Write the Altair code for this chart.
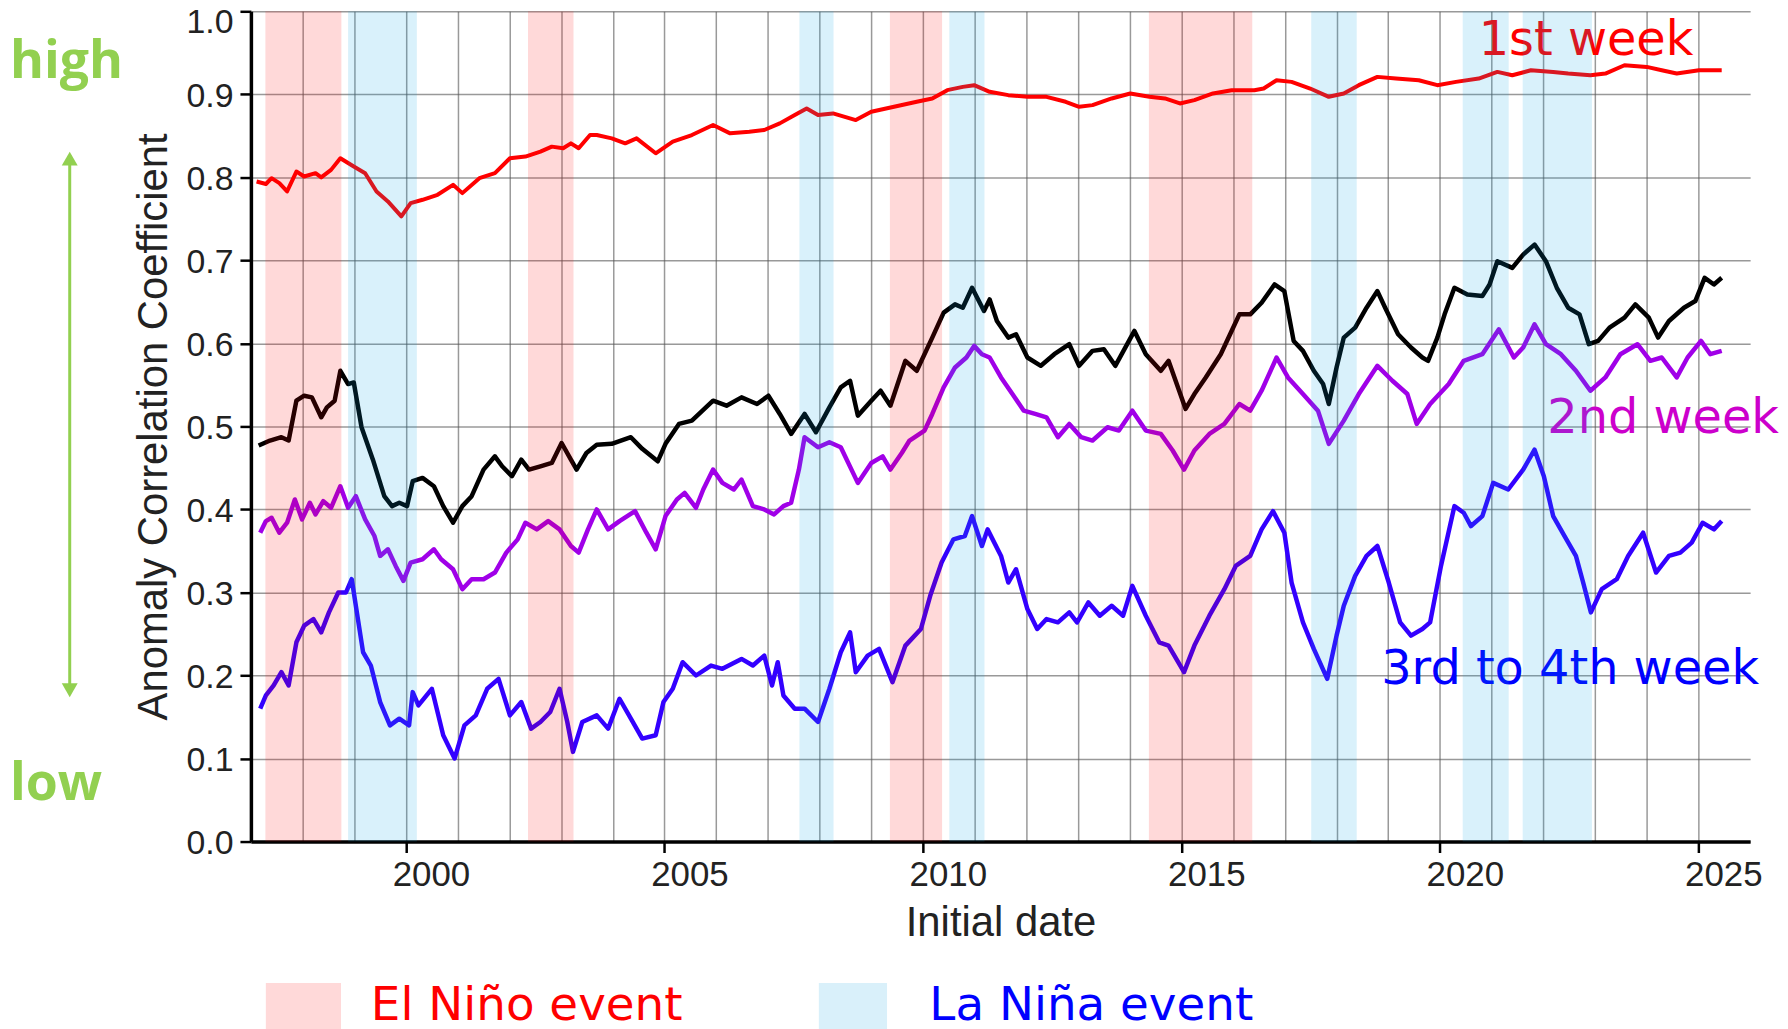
import altair as alt
import pandas as pd

# ---------------- data ----------------
red_t = [1997.11, 1997.29, 1997.40, 1997.55, 1997.70, 1997.88, 1998.03, 1998.25, 1998.36, 1998.55,
         1998.73, 1998.99, 1999.21, 1999.43, 1999.65, 1999.91, 2000.09, 2000.32, 2000.61, 2000.91,
         2001.09, 2001.42, 2001.72, 2002.01, 2002.31, 2002.60, 2002.82, 2003.04, 2003.19, 2003.34,
         2003.56, 2003.69, 2003.98, 2004.24, 2004.46, 2004.83, 2005.16, 2005.53, 2005.94, 2006.27,
         2006.64, 2006.93, 2007.23, 2007.52, 2007.75, 2007.97, 2008.26, 2008.70, 2009.00, 2009.44,
         2009.88, 2010.18, 2010.47, 2010.77, 2010.99, 2011.29, 2011.65, 2012.02, 2012.39, 2012.76,
         2013.02, 2013.28, 2013.65, 2014.01, 2014.38, 2014.68, 2014.97, 2015.25, 2015.61, 2015.97,
         2016.41, 2016.59, 2016.84, 2017.13, 2017.49, 2017.85, 2018.14, 2018.43, 2018.79, 2019.15,
         2019.59, 2019.95, 2020.31, 2020.75, 2021.11, 2021.40, 2021.76, 2022.19, 2022.48, 2022.91,
         2023.20, 2023.57, 2024.00, 2024.29, 2024.58, 2025.01, 2025.45]
red_v = [0.795, 0.792, 0.799, 0.793, 0.783, 0.807, 0.801, 0.805, 0.800, 0.809,
         0.823, 0.813, 0.805, 0.783, 0.771, 0.753, 0.769, 0.773, 0.779, 0.791,
         0.781, 0.799, 0.805, 0.823, 0.825, 0.831, 0.837, 0.835, 0.841, 0.835,
         0.851, 0.851, 0.847, 0.841, 0.847, 0.829, 0.843, 0.851, 0.863, 0.853,
         0.855, 0.857, 0.865, 0.875, 0.883, 0.875, 0.877, 0.869, 0.879, 0.885,
         0.891, 0.895, 0.905, 0.909, 0.911, 0.903, 0.899, 0.897, 0.897, 0.891,
         0.885, 0.887, 0.895, 0.901, 0.897, 0.895, 0.889, 0.893, 0.901, 0.905,
         0.905, 0.907, 0.917, 0.915, 0.907, 0.897, 0.901, 0.911, 0.921, 0.919,
         0.917, 0.911, 0.915, 0.919, 0.927, 0.923, 0.929, 0.927, 0.925, 0.923,
         0.925, 0.935, 0.933, 0.929, 0.925, 0.929, 0.929]

black_t = [1997.15, 1997.37, 1997.59, 1997.73, 1997.88, 1998.03, 1998.18, 1998.36, 1998.47, 1998.62,
           1998.73, 1998.88, 1998.99, 1999.14, 1999.36, 1999.58, 1999.73, 1999.87, 2000.02, 2000.13,
           2000.32, 2000.54, 2000.72, 2000.91, 2001.09, 2001.27, 2001.50, 2001.72, 2001.86, 2002.05,
           2002.23, 2002.38, 2002.60, 2002.82, 2003.01, 2003.19, 2003.30, 2003.49, 2003.69, 2003.98,
           2004.35, 2004.57, 2004.87, 2005.02, 2005.28, 2005.53, 2005.94, 2006.20, 2006.49, 2006.79,
           2007.01, 2007.23, 2007.45, 2007.71, 2007.93, 2008.19, 2008.41, 2008.59, 2008.74, 2009.00,
           2009.18, 2009.37, 2009.66, 2009.88, 2010.18, 2010.40, 2010.62, 2010.77, 2010.95, 2011.18,
           2011.29, 2011.43, 2011.65, 2011.80, 2012.02, 2012.28, 2012.54, 2012.83, 2013.02, 2013.28,
           2013.50, 2013.72, 2014.09, 2014.31, 2014.60, 2014.75, 2015.08, 2015.25, 2015.47, 2015.76,
           2015.97, 2016.12, 2016.33, 2016.55, 2016.80, 2016.99, 2017.17, 2017.35, 2017.56, 2017.74,
           2017.85, 2018.00, 2018.14, 2018.36, 2018.58, 2018.79, 2018.94, 2019.19, 2019.44, 2019.66,
           2019.77, 2019.95, 2020.09, 2020.28, 2020.53, 2020.82, 2020.96, 2021.11, 2021.40, 2021.61,
           2021.83, 2022.05, 2022.26, 2022.48, 2022.70, 2022.88, 2023.06, 2023.28, 2023.57, 2023.78,
           2024.04, 2024.22, 2024.43, 2024.72, 2024.94, 2025.12, 2025.30, 2025.45]
black_v = [0.477, 0.483, 0.487, 0.483, 0.531, 0.537, 0.535, 0.511, 0.523, 0.531,
           0.567, 0.551, 0.553, 0.499, 0.460, 0.416, 0.404, 0.408, 0.404, 0.434,
           0.438, 0.428, 0.404, 0.384, 0.404, 0.416, 0.448, 0.464, 0.452, 0.440,
           0.460, 0.448, 0.452, 0.456, 0.480, 0.460, 0.448, 0.468, 0.478, 0.479,
           0.487, 0.473, 0.458, 0.479, 0.503, 0.507, 0.531, 0.525, 0.535, 0.527,
           0.537, 0.515, 0.491, 0.515, 0.493, 0.523, 0.547, 0.555, 0.513, 0.531,
           0.543, 0.525, 0.579, 0.567, 0.607, 0.637, 0.647, 0.643, 0.667, 0.639,
           0.653, 0.627, 0.607, 0.611, 0.583, 0.573, 0.587, 0.599, 0.573, 0.591,
           0.593, 0.573, 0.615, 0.587, 0.567, 0.579, 0.521, 0.539, 0.559, 0.587,
           0.615, 0.635, 0.635, 0.649, 0.671, 0.663, 0.603, 0.591, 0.567, 0.551,
           0.527, 0.571, 0.607, 0.619, 0.643, 0.663, 0.643, 0.611, 0.595, 0.583,
           0.579, 0.607, 0.635, 0.667, 0.659, 0.657, 0.671, 0.699, 0.691, 0.707,
           0.719, 0.699, 0.667, 0.643, 0.635, 0.599, 0.603, 0.619, 0.631, 0.647,
           0.631, 0.607, 0.627, 0.643, 0.651, 0.679, 0.671, 0.679]

purple_t = [1997.18, 1997.29, 1997.40, 1997.55, 1997.70, 1997.85, 1997.99, 1998.14, 1998.25, 1998.40,
            1998.55, 1998.73, 1998.88, 1999.03, 1999.21, 1999.39, 1999.50, 1999.65, 1999.80, 1999.95,
            2000.09, 2000.32, 2000.54, 2000.68, 2000.91, 2001.09, 2001.27, 2001.50, 2001.72, 2001.94,
            2002.16, 2002.31, 2002.53, 2002.75, 2002.97, 2003.19, 2003.34, 2003.52, 2003.69, 2003.91,
            2004.13, 2004.43, 2004.65, 2004.83, 2005.02, 2005.24, 2005.39, 2005.61, 2005.75, 2005.94,
            2006.12, 2006.34, 2006.49, 2006.71, 2006.93, 2007.12, 2007.30, 2007.45, 2007.60, 2007.71,
            2007.97, 2008.19, 2008.41, 2008.74, 2009.00, 2009.22, 2009.37, 2009.59, 2009.74, 2010.03,
            2010.18, 2010.40, 2010.62, 2010.84, 2010.99, 2011.14, 2011.29, 2011.51, 2011.73, 2011.95,
            2012.17, 2012.39, 2012.61, 2012.83, 2013.06, 2013.28, 2013.57, 2013.79, 2014.05, 2014.31,
            2014.60, 2014.83, 2015.05, 2015.25, 2015.54, 2015.83, 2016.12, 2016.33, 2016.55, 2016.84,
            2017.06, 2017.35, 2017.64, 2017.85, 2018.14, 2018.43, 2018.79, 2019.08, 2019.37, 2019.55,
            2019.81, 2020.17, 2020.46, 2020.82, 2021.14, 2021.43, 2021.61, 2021.83, 2022.05, 2022.34,
            2022.63, 2022.91, 2023.20, 2023.49, 2023.82, 2024.07, 2024.29, 2024.58, 2024.79, 2025.05,
            2025.23, 2025.45]
purple_v = [0.372, 0.386, 0.390, 0.372, 0.384, 0.412, 0.388, 0.408, 0.394, 0.410,
            0.402, 0.428, 0.402, 0.416, 0.388, 0.368, 0.344, 0.352, 0.332, 0.314,
            0.336, 0.340, 0.352, 0.340, 0.328, 0.304, 0.316, 0.316, 0.324, 0.348,
            0.364, 0.384, 0.376, 0.386, 0.376, 0.356, 0.348, 0.376, 0.400, 0.376,
            0.386, 0.398, 0.372, 0.352, 0.392, 0.412, 0.420, 0.402, 0.424, 0.448,
            0.432, 0.424, 0.436, 0.404, 0.400, 0.394, 0.404, 0.408, 0.448, 0.487,
            0.475, 0.481, 0.475, 0.432, 0.456, 0.464, 0.448, 0.468, 0.483, 0.495,
            0.515, 0.547, 0.571, 0.583, 0.597, 0.587, 0.583, 0.559, 0.539, 0.519,
            0.515, 0.511, 0.487, 0.503, 0.487, 0.483, 0.499, 0.495, 0.519, 0.495,
            0.491, 0.471, 0.448, 0.471, 0.491, 0.503, 0.527, 0.519, 0.543, 0.583,
            0.559, 0.539, 0.519, 0.479, 0.507, 0.539, 0.573, 0.555, 0.539, 0.503,
            0.527, 0.551, 0.579, 0.587, 0.617, 0.583, 0.595, 0.623, 0.599, 0.587,
            0.567, 0.543, 0.559, 0.587, 0.599, 0.579, 0.583, 0.559, 0.583, 0.603,
            0.587, 0.591]

blue_t = [1997.18, 1997.29, 1997.44, 1997.59, 1997.73, 1997.88, 1998.03, 1998.21, 1998.36, 1998.51,
          1998.69, 1998.84, 1998.95, 1999.06, 1999.17, 1999.32, 1999.50, 1999.69, 1999.87, 2000.06,
          2000.13, 2000.24, 2000.50, 2000.72, 2000.94, 2001.13, 2001.35, 2001.57, 2001.79, 2002.01,
          2002.23, 2002.42, 2002.60, 2002.79, 2002.97, 2003.12, 2003.23, 2003.41, 2003.69, 2003.91,
          2004.13, 2004.35, 2004.57, 2004.83, 2004.98, 2005.16, 2005.35, 2005.61, 2005.90, 2006.12,
          2006.49, 2006.71, 2006.93, 2007.08, 2007.19, 2007.30, 2007.52, 2007.71, 2007.97, 2008.19,
          2008.41, 2008.59, 2008.70, 2008.93, 2009.15, 2009.41, 2009.66, 2009.96, 2010.14, 2010.36,
          2010.59, 2010.81, 2010.95, 2011.14, 2011.25, 2011.51, 2011.65, 2011.80, 2012.02, 2012.21,
          2012.39, 2012.61, 2012.83, 2012.98, 2013.20, 2013.42, 2013.65, 2013.87, 2014.05, 2014.31,
          2014.57, 2014.75, 2015.05, 2015.25, 2015.54, 2015.83, 2016.05, 2016.33, 2016.55, 2016.77,
          2016.99, 2017.13, 2017.35, 2017.56, 2017.82, 2018.00, 2018.14, 2018.36, 2018.58, 2018.79,
          2019.01, 2019.23, 2019.44, 2019.66, 2019.81, 2020.02, 2020.28, 2020.46, 2020.60, 2020.82,
          2021.03, 2021.32, 2021.61, 2021.83, 2022.01, 2022.19, 2022.41, 2022.63, 2022.77, 2022.92,
          2023.13, 2023.42, 2023.64, 2023.93, 2024.18, 2024.43, 2024.65, 2024.87, 2025.08, 2025.30,
          2025.45]
blue_v = [0.160, 0.176, 0.188, 0.204, 0.188, 0.240, 0.260, 0.268, 0.252, 0.276,
          0.300, 0.300, 0.316, 0.272, 0.228, 0.212, 0.168, 0.140, 0.148, 0.140,
          0.180, 0.164, 0.184, 0.128, 0.100, 0.140, 0.152, 0.184, 0.196, 0.152,
          0.168, 0.136, 0.144, 0.156, 0.184, 0.144, 0.108, 0.144, 0.152, 0.136,
          0.172, 0.148, 0.124, 0.128, 0.168, 0.184, 0.216, 0.200, 0.212, 0.208,
          0.220, 0.212, 0.224, 0.188, 0.216, 0.176, 0.160, 0.160, 0.144, 0.184,
          0.228, 0.252, 0.204, 0.224, 0.232, 0.192, 0.236, 0.256, 0.296, 0.336,
          0.364, 0.368, 0.392, 0.356, 0.376, 0.344, 0.312, 0.328, 0.280, 0.256,
          0.268, 0.264, 0.276, 0.264, 0.288, 0.272, 0.284, 0.272, 0.308, 0.272,
          0.240, 0.236, 0.204, 0.236, 0.272, 0.304, 0.332, 0.344, 0.376, 0.398,
          0.372, 0.312, 0.264, 0.232, 0.196, 0.248, 0.284, 0.320, 0.344, 0.356,
          0.312, 0.264, 0.248, 0.256, 0.264, 0.332, 0.404, 0.396, 0.380, 0.392,
          0.432, 0.424, 0.448, 0.472, 0.440, 0.392, 0.368, 0.344, 0.312, 0.276,
          0.304, 0.316, 0.344, 0.372, 0.324, 0.344, 0.348, 0.360, 0.384, 0.376,
          0.386]

elnino_start = [1997.28, 2002.36, 2009.36, 2014.37]
elnino_end = [1998.75, 2003.24, 2010.37, 2016.37]
lanina_start = [1998.88, 2007.61, 2010.51, 2017.51, 2020.44, 2021.60]
lanina_end = [2000.21, 2008.27, 2011.19, 2018.39, 2021.33, 2022.94]

grid_years = list(range(1998, 2026))
y_ticks = [round(i * 0.1, 1) for i in range(11)]
x_domain = [1997, 2026]
y_domain = [0, 1]

# ---------------- styling ----------------
W, H = 1506, 834
GREEN = "#92D050"
AX_FONT = "Liberation Sans"
LBL_FONT = "DejaVu Sans"

XS = alt.Scale(domain=x_domain, nice=False, zero=False)
YS = alt.Scale(domain=y_domain, nice=False, zero=False)

X_AXIS = alt.Axis(
    values=grid_years, format="d",
    labelExpr="datum.value % 5 == 0 ? datum.label : ''",
    labelOverlap=False, labelFlush=False,
    labelFont=AX_FONT, labelFontSize=35, labelColor="#222222",
    labelBaseline="alphabetic", labelPadding=33, labelOffset=25,
    tickSize=11, tickWidth=2.5, tickColor="#000000",
    tickOpacity={"condition": {"test": "datum.value % 5 == 0", "value": 1}, "value": 0},
    grid=True, gridColor="#555555", gridOpacity=0.6, gridWidth=1.5,
    domain=True, domainColor="#000000", domainWidth=3.5,
    title="Initial date", titleFont=AX_FONT, titleFontSize=42, titleFontWeight="normal",
    titleColor="#222222", titleX=W / 2, titleY=94, titleBaseline="alphabetic", titleAlign="center",
)
Y_AXIS = alt.Axis(
    values=y_ticks, format=".1f",
    labelFont=AX_FONT, labelFontSize=34, labelColor="#222222",
    labelPadding=7, labelBaseline="middle",
    labelOffset={"condition": {"test": "datum.value >= 0.99", "value": 11}, "value": 2},
    labelFlush=False,
    tickSize=11, tickWidth=2.5, tickColor="#000000",
    grid=True, gridColor="#555555", gridOpacity=0.6, gridWidth=1.5,
    domain=True, domainColor="#000000", domainWidth=3.5,
    title="Anomaly Correlation Coefficient", titleFont=AX_FONT, titleFontSize=42,
    titleFontWeight="normal", titleColor="#222222", titleAngle=270,
    titleX=-85, titleY=H / 2, titleBaseline="alphabetic", titleAlign="center",
)


def series(t, v, color, width):
    df = pd.DataFrame({"t": t, "v": v})
    return alt.Chart(df).mark_line(color=color, strokeWidth=width, strokeJoin="round").encode(
        x=alt.X("t:Q", scale=XS, axis=X_AXIS),
        y=alt.Y("v:Q", scale=YS, axis=Y_AXIS),
    )


def bands(s, e, color):
    df = pd.DataFrame({"start": s, "end": e})
    return alt.Chart(df).mark_rect(color=color, opacity=0.15).encode(
        x=alt.X("start:Q", scale=XS, axis=X_AXIS),
        x2="end:Q",
        y=alt.YDatum(0, scale=YS, axis=Y_AXIS),
        y2=alt.Y2Datum(1),
    )


def label(text, x, y, color, size, font=LBL_FONT, align="left", weight="normal"):
    df = pd.DataFrame({"label": [text]})
    return alt.Chart(df).mark_text(
        color=color, fontSize=size, font=font, align=align,
        baseline="alphabetic", fontWeight=weight,
    ).encode(x=alt.value(x), y=alt.value(y), text="label:N")


def swatch(x1, x2, y1, y2, color):
    df = pd.DataFrame({"k": [0]})
    return alt.Chart(df).mark_rect(color=color).encode(
        x=alt.value(x1), x2=alt.value(x2), y=alt.value(y1), y2=alt.value(y2))


one = pd.DataFrame({"k": [0]})
arrow_line = alt.Chart(one).mark_rule(color=GREEN, strokeWidth=3).encode(
    x=alt.value(-182), y=alt.value(150), y2=alt.value(680))
arrow_up = alt.Chart(one).mark_point(shape="triangle-up", filled=True, size=256, color=GREEN,
                                     opacity=1, strokeWidth=0).encode(x=alt.value(-182), y=alt.value(148))
arrow_down = alt.Chart(one).mark_point(shape="triangle-down", filled=True, size=256, color=GREEN,
                                       opacity=1, strokeWidth=0).encode(x=alt.value(-182), y=alt.value(682))

layers = [
    series(red_t, red_v, "#FF0000", 4),
    series(black_t, black_v, "#000000", 4.5),
    series(purple_t, purple_v, "#A000E8", 4.5),
    series(blue_t, blue_v, "#3300FF", 4.5),
    label("1st week", 1449, 44, "#FF0000", 48, align="right"),
    label("2nd week", 1535, 424, "#CC00CC", 48, align="right"),
    label("3rd to 4th week", 1515, 676, "#0000FF", 48, align="right"),
    bands(elnino_start, elnino_end, "#FF0000"),
    bands(lanina_start, lanina_end, "#00A0E6"),
    label("high", -242, 67, GREEN, 52, font="Open Sans", weight="bold"),
    label("low", -242, 792, GREEN, 52, font="Open Sans", weight="bold"),
    arrow_line, arrow_up, arrow_down,
    swatch(15, 90.5, 976, 1030, "#FFD9D9"),
    label("El Niño event", 120.5, 1013, "#FF0000", 47),
    swatch(570.5, 639, 976, 1030, "#D9F0FA"),
    label("La Niña event", 681.5, 1013, "#0000FF", 47),
]

chart = alt.layer(*layers).properties(
    width=W, height=H,
    autosize=alt.AutoSizeParams(type="none"),
    padding={"left": 244, "top": 1, "right": 30, "bottom": 190},
    background="white",
).configure_view(strokeWidth=0)

chart.save("out.html", embed_options={"renderer": "svg", "actions": False})
